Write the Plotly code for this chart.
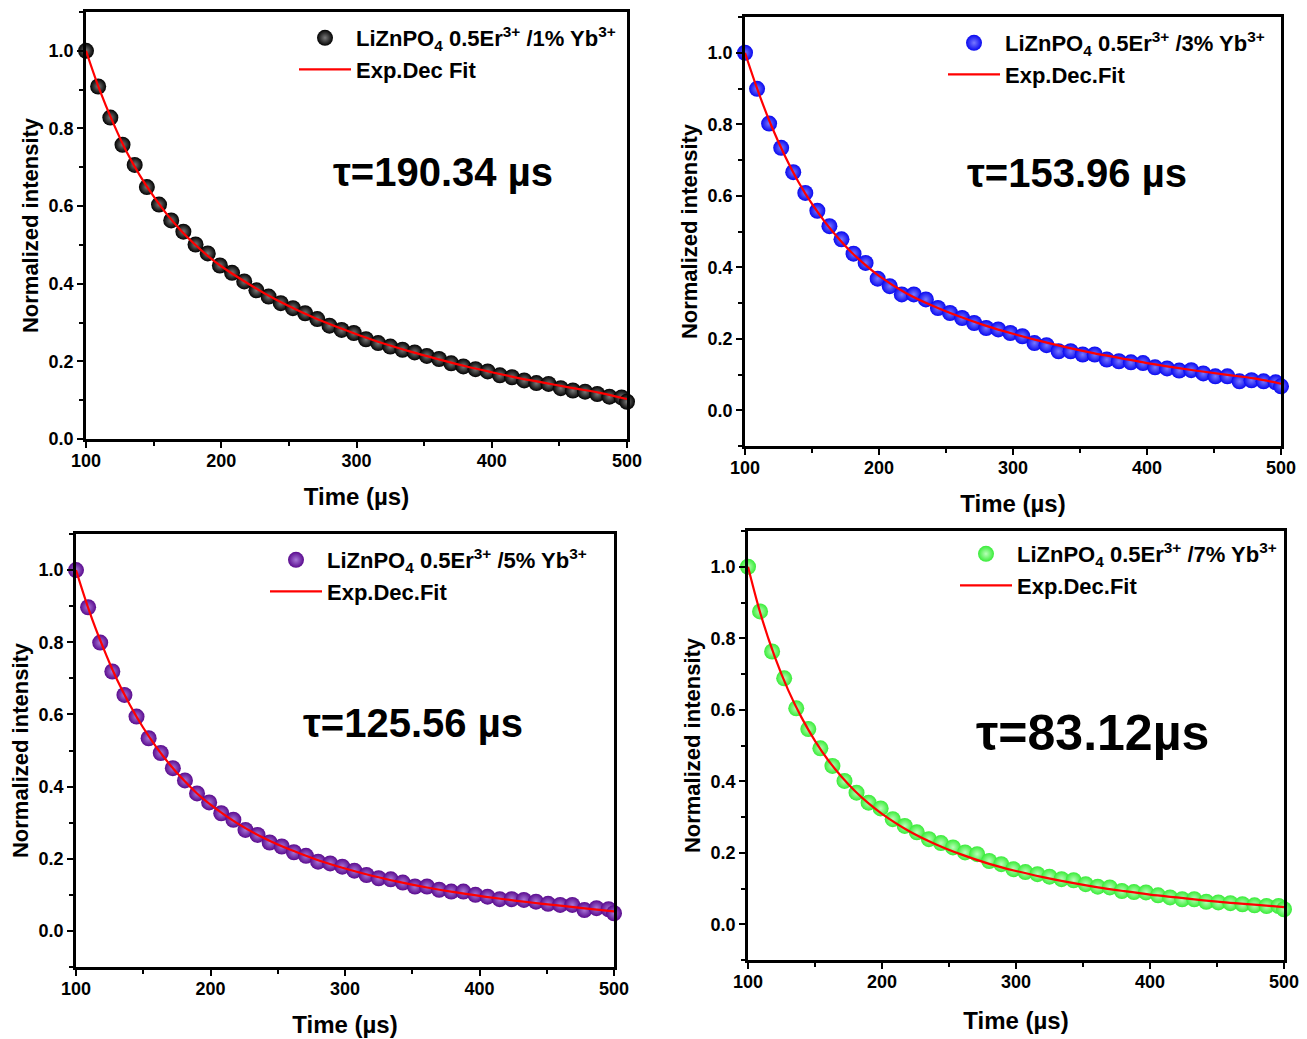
import plotly.graph_objects as go

# The page body adds an 8 px margin; figure coordinates are offset by it.
OFF = 8
W, H = 1307 - OFF, 1039 - OFF

# ---------------- data ----------------
t_pts = [100, 109, 118, 127, 136, 145, 154, 163, 172, 181, 190, 199, 208, 217, 226, 235,
         244, 253, 262, 271, 280, 289, 298, 307, 316, 325, 334, 343, 352, 361, 370, 379,
         388, 397, 406, 415, 424, 433, 442, 451, 460, 469, 478, 487, 496, 500]

yb1_pts = [1.000, 0.908, 0.828, 0.758, 0.706, 0.649, 0.604, 0.563, 0.534, 0.501, 0.478, 0.447,
           0.428, 0.406, 0.383, 0.367, 0.350, 0.337, 0.324, 0.309, 0.292, 0.281, 0.273, 0.257,
           0.247, 0.238, 0.230, 0.223, 0.214, 0.206, 0.195, 0.187, 0.180, 0.174, 0.164, 0.159,
           0.151, 0.144, 0.142, 0.131, 0.125, 0.122, 0.116, 0.109, 0.107, 0.096]

yb3_pts = [1.000, 0.899, 0.802, 0.734, 0.666, 0.608, 0.558, 0.515, 0.478, 0.438, 0.412, 0.368,
           0.347, 0.324, 0.324, 0.310, 0.286, 0.272, 0.258, 0.244, 0.230, 0.226, 0.216, 0.207,
           0.188, 0.182, 0.165, 0.165, 0.156, 0.156, 0.142, 0.137, 0.134, 0.132, 0.120, 0.117,
           0.111, 0.112, 0.103, 0.095, 0.095, 0.081, 0.084, 0.081, 0.078, 0.067]

yb5_pts = [1.000, 0.897, 0.799, 0.719, 0.654, 0.594, 0.534, 0.493, 0.451, 0.417, 0.381, 0.356,
           0.326, 0.308, 0.280, 0.266, 0.245, 0.234, 0.218, 0.208, 0.192, 0.187, 0.178, 0.167,
           0.155, 0.146, 0.143, 0.134, 0.123, 0.123, 0.114, 0.109, 0.109, 0.100, 0.095, 0.088,
           0.088, 0.086, 0.081, 0.075, 0.072, 0.072, 0.058, 0.063, 0.060, 0.049]

yb7_pts = [1.000, 0.875, 0.763, 0.688, 0.604, 0.546, 0.492, 0.443, 0.401, 0.368, 0.340, 0.324,
           0.294, 0.275, 0.257, 0.238, 0.227, 0.215, 0.201, 0.196, 0.177, 0.168, 0.154, 0.146,
           0.140, 0.133, 0.126, 0.123, 0.112, 0.105, 0.103, 0.093, 0.090, 0.089, 0.081, 0.075,
           0.070, 0.070, 0.063, 0.061, 0.059, 0.056, 0.053, 0.051, 0.051, 0.042]

t_fit = [100, 110, 120, 130, 140, 150, 160, 170, 180, 190, 200, 220, 240, 260, 280, 300,
         320, 340, 360, 380, 400, 420, 440, 460, 480, 500]

yb1_fit = [1.000, 0.900, 0.815, 0.740, 0.678, 0.625, 0.578, 0.538, 0.503, 0.472, 0.445, 0.400,
           0.360, 0.326, 0.296, 0.270, 0.246, 0.225, 0.206, 0.188, 0.172, 0.157, 0.144, 0.131,
           0.119, 0.103]
yb3_fit = [1.000, 0.890, 0.793, 0.710, 0.638, 0.577, 0.525, 0.480, 0.440, 0.406, 0.376, 0.328,
           0.292, 0.262, 0.236, 0.214, 0.194, 0.176, 0.160, 0.146, 0.132, 0.120, 0.109, 0.099,
           0.089, 0.074]
yb5_fit = [1.000, 0.885, 0.787, 0.700, 0.627, 0.563, 0.508, 0.460, 0.418, 0.381, 0.350, 0.298,
           0.257, 0.224, 0.196, 0.173, 0.153, 0.136, 0.121, 0.108, 0.097, 0.087, 0.078, 0.070,
           0.062, 0.054]
yb7_fit = [1.000, 0.860, 0.748, 0.655, 0.578, 0.513, 0.458, 0.412, 0.372, 0.338, 0.309, 0.261,
           0.224, 0.194, 0.169, 0.149, 0.132, 0.117, 0.104, 0.093, 0.083, 0.075, 0.067, 0.060,
           0.054, 0.048]

sample_names = ["LiZnPO<sub>4</sub> 0.5Er<sup>3+</sup> /1% Yb<sup>3+</sup>",
                "LiZnPO<sub>4</sub> 0.5Er<sup>3+</sup> /3% Yb<sup>3+</sup>",
                "LiZnPO<sub>4</sub> 0.5Er<sup>3+</sup> /5% Yb<sup>3+</sup>",
                "LiZnPO<sub>4</sub> 0.5Er<sup>3+</sup> /7% Yb<sup>3+</sup>"]
fit_names = ["Exp.Dec Fit", "Exp.Dec.Fit", "Exp.Dec.Fit", "Exp.Dec.Fit"]
tau_labels = ["τ=190.34 µs", "τ=153.96 µs", "τ=125.56 µs", "τ=83.12µs"]

x_ticks = [100, 200, 300, 400, 500]
y_ticks = [0.0, 0.2, 0.4, 0.6, 0.8, 1.0]

# ---------------- styling / layout ----------------
point_sets = [yb1_pts, yb3_pts, yb5_pts, yb7_pts]
fit_sets = [yb1_fit, yb3_fit, yb5_fit, yb7_fit]
marker_colors = ["#000000", "#0808f0", "#5a0a8e", "#38ec38"]
highlight_colors = ["#7a7a7a", "#7878ff", "#a878d8", "#b8ffb8"]

# panel boxes in window pixels: left, right, top, bottom
boxes = [(86, 627, 12, 439), (745, 1281, 17, 446), (76, 614, 534, 967), (748, 1284, 531, 960)]
y_ranges = [[0, 1.1], [-0.1, 1.1], [-0.1, 1.1], [-0.1, 1.1]]
tau_pos = [(443, 172), (1077, 173), (413, 723), (1092, 733)]
tau_sizes = [40, 40, 40, 50]
legend_pos = [(294, 17), (943, 22), (265, 539), (955, 533)]
xtitle_standoff = [18, 18, 18, 21]


def fx(px):
    return (px - OFF) / W


def fy(py):
    return 1 - (py - OFF) / H


FONT = "Liberation Sans, Arial, sans-serif"

fig = go.Figure()
layout = dict(width=W, height=H, margin=dict(l=0, r=0, t=0, b=0, autoexpand=False),
              paper_bgcolor="white", plot_bgcolor="white", annotations=[])

for i in range(4):
    sfx = "" if i == 0 else str(i + 1)
    xa, ya = "x" + sfx, "y" + sfx
    lg = "legend" + sfx
    l, r, t, b = boxes[i]
    fig.add_trace(go.Scatter(
        x=t_pts, y=point_sets[i], mode="markers", name=sample_names[i],
        xaxis=xa, yaxis=ya, legend=lg, cliponaxis=False,
        marker=dict(size=16, color=marker_colors[i], line=dict(width=0),
                    gradient=dict(type="radial", color=highlight_colors[i]))))
    fig.add_trace(go.Scatter(
        x=t_fit, y=fit_sets[i], mode="lines", name=fit_names[i], line_shape="spline",
        xaxis=xa, yaxis=ya, legend=lg,
        line=dict(color="#ff0000", width=2.2)))

    axis_common = dict(showline=True, linecolor="black", linewidth=2.6, mirror=True,
                       ticks="outside", ticklen=6, tickwidth=2.2, tickcolor="black",
                       showgrid=False, zeroline=False, automargin=False,
                       tickfont=dict(family=FONT, size=18, color="black", weight="bold"))
    layout["xaxis" + sfx] = dict(
        axis_common, domain=[fx(l), fx(r)], anchor=ya, range=[100, 500],
        tickvals=x_ticks, ticklabelstandoff=-2, ticklabeloverflow="allow",
        minor=dict(dtick=50, tick0=100, ticks="outside", ticklen=4, tickwidth=2, tickcolor="black"),
        title=dict(text="Time (µs)", standoff=xtitle_standoff[i],
                   font=dict(family=FONT, size=24, color="black", weight="bold")))
    layout["yaxis" + sfx] = dict(
        axis_common, domain=[fy(b), fy(t)], anchor=xa, range=y_ranges[i],
        tickvals=y_ticks, tickformat=".1f",
        minor=dict(dtick=0.1, tick0=0, ticks="outside", ticklen=4, tickwidth=2, tickcolor="black"),
        title=dict(text="Normalized intensity", standoff=4,
                   font=dict(family=FONT, size=22, color="black", weight="bold")))
    lx, ly = legend_pos[i]
    layout[lg] = dict(x=fx(lx), y=fy(ly), xanchor="left", yanchor="top",
                      bgcolor="rgba(0,0,0,0)", borderwidth=0, itemwidth=52,
                      tracegroupgap=0,
                      font=dict(family=FONT, size=22, color="black", weight="bold"))
    tx, ty = tau_pos[i]
    layout["annotations"].append(dict(
        text=tau_labels[i], x=fx(tx), y=fy(ty), xref="paper", yref="paper",
        showarrow=False, xanchor="center", yanchor="middle",
        font=dict(family=FONT, size=tau_sizes[i], color="black", weight="bold")))

fig.update_layout(**layout)
fig.write_html("out.html")
